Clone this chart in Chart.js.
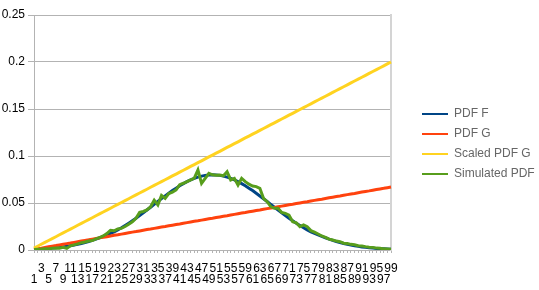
<!DOCTYPE html>
<html>
<head>
<meta charset="utf-8">
<script src="https://cdn.jsdelivr.net/npm/chart.js@4.4.1/dist/chart.umd.min.js"></script>
<style>
  html, body { margin: 0; padding: 0; background: #ffffff; }
  #wrap { width: 539px; height: 290px; position: relative; }
</style>
</head>
<body>
<div id="wrap"><canvas id="c" width="539" height="290"></canvas></div>
<script>
// Categories 1..99
const categories = [1,2,3,4,5,6,7,8,9,10,11,12,13,14,15,16,17,18,19,20,21,22,23,24,25,26,27,28,29,30,31,32,33,34,35,36,37,38,39,40,41,42,43,44,45,46,47,48,49,50,51,52,53,54,55,56,57,58,59,60,61,62,63,64,65,66,67,68,69,70,71,72,73,74,75,76,77,78,79,80,81,82,83,84,85,86,87,88,89,90,91,92,93,94,95,96,97,98,99];

const pdfF = [
  0.0008,0.0010,0.0012,0.0014,0.0017,0.0020,0.0024,0.0028,0.0033,0.0039,
  0.0046,0.0053,0.0061,0.0070,0.0080,0.0091,0.0103,0.0116,0.0130,0.0145,
  0.0161,0.0178,0.0193,0.0214,0.0236,0.0260,0.0285,0.0311,0.0338,0.0366,
  0.0395,0.0425,0.0455,0.0485,0.0516,0.0546,0.0575,0.0604,0.0632,0.0658,
  0.0683,0.0706,0.0727,0.0746,0.0762,0.0775,0.0786,0.0794,0.0798,0.0800,
  0.0798,0.0794,0.0786,0.0775,0.0762,0.0746,0.0727,0.0706,0.0683,0.0658,
  0.0632,0.0604,0.0575,0.0546,0.0516,0.0485,0.0455,0.0425,0.0395,0.0366,
  0.0338,0.0311,0.0285,0.0260,0.0236,0.0214,0.0193,0.0178,0.0161,0.0145,
  0.0130,0.0116,0.0103,0.0091,0.0080,0.0070,0.0061,0.0053,0.0046,0.0039,
  0.0033,0.0028,0.0024,0.0020,0.0017,0.0014,0.0012,0.0010,0.0008
];

const pdfG = [
  0.0007,0.0014,0.0020,0.0027,0.0034,0.0041,0.0047,0.0054,0.0061,0.0068,
  0.0074,0.0081,0.0088,0.0095,0.0102,0.0108,0.0115,0.0122,0.0129,0.0135,
  0.0142,0.0149,0.0156,0.0162,0.0169,0.0176,0.0183,0.0190,0.0196,0.0203,
  0.0210,0.0217,0.0223,0.0230,0.0237,0.0244,0.0250,0.0257,0.0264,0.0271,
  0.0277,0.0284,0.0291,0.0298,0.0305,0.0311,0.0318,0.0325,0.0332,0.0338,
  0.0345,0.0352,0.0359,0.0365,0.0372,0.0379,0.0386,0.0393,0.0399,0.0406,
  0.0413,0.0420,0.0426,0.0433,0.0440,0.0447,0.0453,0.0460,0.0467,0.0474,
  0.0481,0.0487,0.0494,0.0501,0.0508,0.0514,0.0521,0.0528,0.0535,0.0541,
  0.0548,0.0555,0.0562,0.0569,0.0575,0.0582,0.0589,0.0596,0.0602,0.0609,
  0.0616,0.0623,0.0629,0.0636,0.0643,0.0650,0.0656,0.0663,0.0670
];

const scaledG = [
  0.0020,0.0040,0.0061,0.0081,0.0101,0.0121,0.0141,0.0162,0.0182,0.0202,
  0.0222,0.0242,0.0263,0.0283,0.0303,0.0323,0.0343,0.0364,0.0384,0.0404,
  0.0424,0.0444,0.0465,0.0485,0.0505,0.0525,0.0545,0.0566,0.0586,0.0606,
  0.0626,0.0646,0.0667,0.0687,0.0707,0.0727,0.0747,0.0768,0.0788,0.0808,
  0.0828,0.0848,0.0869,0.0889,0.0909,0.0929,0.0949,0.0970,0.0990,0.1010,
  0.1030,0.1050,0.1071,0.1091,0.1111,0.1131,0.1151,0.1172,0.1192,0.1212,
  0.1232,0.1252,0.1273,0.1293,0.1313,0.1333,0.1353,0.1374,0.1394,0.1414,
  0.1434,0.1454,0.1475,0.1495,0.1515,0.1535,0.1555,0.1576,0.1596,0.1616,
  0.1636,0.1656,0.1677,0.1697,0.1717,0.1737,0.1757,0.1778,0.1798,0.1818,
  0.1838,0.1858,0.1879,0.1899,0.1919,0.1939,0.1959,0.1980,0.2000
];

const simulated = [
  0.0005,0.0008,0.0010,0.0013,0.0012,0.0018,0.0022,0.0020,0.0028,0.0018,
  0.0045,0.0055,0.0065,0.0078,0.0085,0.0095,0.0100,0.0118,0.0132,0.0150,
  0.0175,0.0210,0.0205,0.0225,0.0230,0.0250,0.0275,0.0300,0.0337,0.0400,
  0.0410,0.0426,0.0460,0.0530,0.0479,0.0580,0.0550,0.0600,0.0615,0.0640,
  0.0695,0.0710,0.0727,0.0745,0.0765,0.0851,0.0709,0.0762,0.0816,0.0800,
  0.0795,0.0798,0.0790,0.0833,0.0745,0.0762,0.0691,0.0762,0.0727,0.0700,
  0.0681,0.0674,0.0656,0.0550,0.0514,0.0461,0.0443,0.0443,0.0400,0.0390,
  0.0372,0.0301,0.0290,0.0248,0.0266,0.0248,0.0206,0.0190,0.0170,0.0149,
  0.0135,0.0115,0.0106,0.0095,0.0088,0.0072,0.0068,0.0060,0.0055,0.0046,
  0.0043,0.0036,0.0030,0.0028,0.0020,0.0018,0.0012,0.0010,0.0007
];

const seriesNames = ['PDF F', 'PDF G', 'Scaled PDF G', 'Simulated PDF'];
const yTickLabels = ['0', '0.05', '0.1', '0.15', '0.2', '0.25'];

const colors = ['#004586', '#ff420e', '#ffd320', '#579d1c'];
const FONT = "'Liberation Sans', Arial, sans-serif";

function xLabel(i) {
  const n = categories[i];
  if (n % 2 === 0) return '';
  if ((n - 1) % 4 === 0) return ['', String(n)];
  return [String(n)];
}

const seriesData = [pdfF, pdfG, scaledG, simulated];
const drawOrder = [4, 3, 2, 1];

new Chart(document.getElementById('c'), {
  type: 'line',
  data: {
    labels: categories,
    datasets: seriesData.map((d, k) => ({
      label: seriesNames[k],
      data: d,
      borderColor: colors[k],
      backgroundColor: colors[k],
      borderWidth: 3,
      pointRadius: 0,
      pointHoverRadius: 0,
      tension: 0,
      fill: false,
      order: drawOrder[k],
      yAxisID: 'y'
    }))
  },
  options: {
    responsive: false,
    animation: false,
    events: [],
    layout: { padding: { top: 15, bottom: 0, left: 0, right: 0 } },
    plugins: {
      tooltip: { enabled: false },
      legend: {
        position: 'right',
        fullSize: false,
        maxWidth: 125,
        title: {
          display: true,
          text: '',
          font: { family: FONT, size: 13, lineHeight: 1 },
          padding: { top: 5, bottom: 5 }
        },
        labels: {
          boxWidth: 26,
          boxHeight: 2,
          padding: 8,
          color: '#000000',
          font: { family: FONT, size: 12 },
          sort: (a, b) => a.datasetIndex - b.datasetIndex,
          generateLabels: (chart) => chart.data.datasets.map((ds, i) => ({
            text: ds.label,
            fillStyle: ds.borderColor,
            strokeStyle: ds.borderColor,
            lineWidth: 0,
            hidden: false,
            datasetIndex: i
          }))
        }
      }
    },
    scales: {
      x: {
        type: 'category',
        offset: false,
        grid: {
          display: true,
          drawOnChartArea: false,
          drawTicks: true,
          tickLength: 3,
          color: '#b3b3b3'
        },
        border: { display: true, color: '#b3b3b3', width: 1 },
        ticks: {
          autoSkip: false,
          maxRotation: 0,
          minRotation: 0,
          padding: 10,
          color: '#000000',
          font: { family: FONT, size: 12, lineHeight: 0.95 },
          callback: (v, i) => xLabel(i)
        },
        afterFit: (s) => { s.height = 40; }
      },
      y: {
        type: 'linear',
        position: 'left',
        min: 0,
        max: 0.25,
        ticks: {
          stepSize: 0.05,
          padding: 3,
          color: '#000000',
          font: { family: FONT, size: 12 },
          callback: (v, i) => yTickLabels[i]
        },
        grid: { color: '#b3b3b3', tickLength: 6, lineWidth: 1 },
        border: { display: true, color: '#b3b3b3', width: 1 },
        afterFit: (s) => { s.width = 34; }
      },
      yR: {
        type: 'linear',
        position: 'right',
        display: true,
        min: 0,
        max: 0.25,
        grid: { display: false, drawTicks: false },
        ticks: { display: false },
        border: { display: true, color: '#d4d4d4', width: 2 },
        afterFit: (s) => { s.width = 23; }
      }
    }
  }
});
</script>
</body>
</html>
